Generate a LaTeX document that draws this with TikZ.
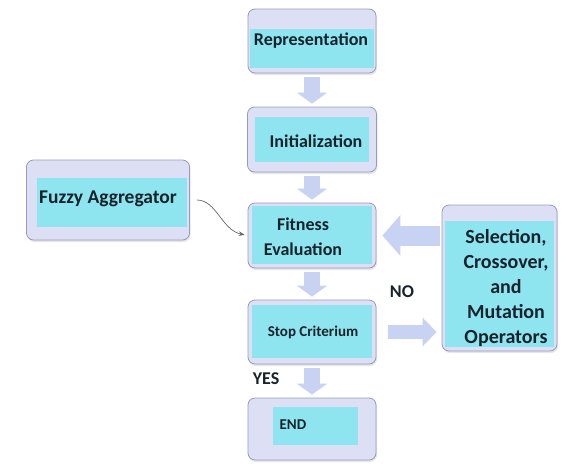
\documentclass[tikz,border=0pt]{standalone}
\usepackage{fontspec}
\setmainfont{Carlito}
\usetikzlibrary{arrows.meta,shadows}

\definecolor{boxlav}{HTML}{DDE0F5}
\definecolor{boxcyan}{HTML}{8FE5EF}
\definecolor{boxedge}{HTML}{959BBE}
\definecolor{arrlav}{HTML}{C8D3F3}
\definecolor{txtdark}{HTML}{16232B}

\tikzset{
  stepbox/.style={draw=boxedge, fill=boxlav, rounded corners=7pt, line width=0.8pt,
    drop shadow={opacity=0.2, shadow xshift=1pt, shadow yshift=-2pt}},
  innerfill/.style={fill=boxcyan},
  lbl/.style={text=txtdark, font=\bfseries\fontsize{18}{25}\selectfont, align=center, inner sep=0pt},
  smalllbl/.style={lbl, font=\bfseries\fontsize{15}{18}\selectfont},
  blockarr/.style={draw=arrlav, line width=16pt, -{Triangle[length=11pt,width=30pt]}},
}

\begin{document}
\begin{tikzpicture}[x=1pt, y=-1pt]
        \useasboundingbox (0,0) rectangle (564,463);
        % boxes
        \node[stepbox, minimum width=128pt, minimum height=64pt] (rep) at (312,41) {};
        \node[stepbox, minimum width=129pt, minimum height=65pt] (init) at (312,139.5) {};
        \node[stepbox, minimum width=128pt, minimum height=65pt] (fit) at (312,235.5) {};
        \node[stepbox, minimum width=128pt, minimum height=64pt] (stop) at (312,332) {};
        \node[stepbox, minimum width=128pt, minimum height=62pt] (fin) at (312,429) {};
        \node[stepbox, minimum width=163pt, minimum height=80pt] (fuzzy) at (108,200) {};
        \node[stepbox, minimum width=115pt, minimum height=146pt] (ops) at (499.5,278) {};
        % inner fills
        \fill[innerfill] (250,29) rectangle (374,68);
        \fill[innerfill] (255,117) rectangle (369,162);
        \fill[innerfill] (252,206) rectangle (372,264);
        \fill[innerfill] (252,305) rectangle (372,358);
        \fill[innerfill] (273,407) rectangle (358,445);
        \fill[innerfill] (37,178) rectangle (187,227);
        \fill[innerfill] (445,221) rectangle (554,347);
        % labels
        \node[lbl] (repL) at (311,41) {Representation};
        \node[lbl] (initL) at (316,141) {Initialization};
        \node[lbl] (fitL) at (303,237) {Fitness\\Evaluation};
        \node[smalllbl] (stopL) at (313,332) {Stop Criterium};
        \node[smalllbl] (finL) at (293,425) {END};
        \node[lbl, font=\bfseries\fontsize{19.5}{25}\selectfont] (fuzzyL) at (108,199) {Fuzzy Aggregator};
        \node[lbl, font=\bfseries\fontsize{20}{25}\selectfont] (opsL) at (506,288) {Selection,\\Crossover,\\and\\Mutation\\Operators};
        \node[lbl] (no) at (402,292) {NO};
        \node[lbl] (yes) at (266,379) {YES};
        % arrows
        \draw[blockarr, shorten <=4pt, shorten >=3pt] (rep) -- (init);
        \draw[blockarr, shorten <=4pt, shorten >=3pt] (init) -- (fit);
        \draw[blockarr, shorten <=4pt, shorten >=3pt] (fit) -- (stop);
        \draw[blockarr, shorten <=4pt, shorten >=3pt] (stop) -- (fin);
        \draw[blockarr, line width=20pt, -{Triangle[length=18pt,width=40pt]}, shorten <=2pt, shorten >=6pt]
          (ops.west |- fit.east) -- (fit.east);
        \draw[blockarr, line width=14pt, -{Triangle[length=14pt,width=28pt]}, shorten <=12pt, shorten >=5pt]
          (stop.east) -- (stop.east -| ops.west);
        \draw[gray!80!black, line width=0.7pt, -{Stealth[length=6pt]}, shorten <=7pt, shorten >=3pt]
          (fuzzy.east) to[out=0, in=168] (fit.west);
\end{tikzpicture}
\end{document}
